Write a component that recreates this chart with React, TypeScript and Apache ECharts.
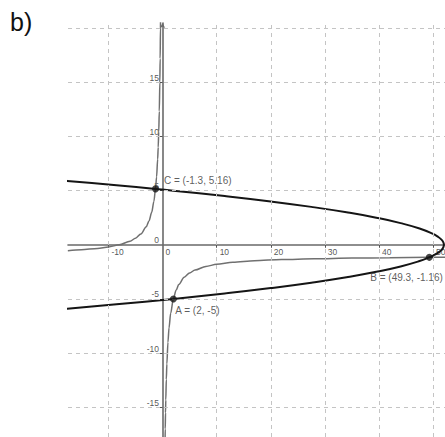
import React, { useEffect, useRef } from "react";
import * as echarts from "echarts";

// Axis ranges
const X_MIN = -17.47;
const X_MAX = 52.2;
const Y_MIN = -17.75;
const Y_MAX = 20.48;

// Tick labels and grid lines
const xTickValues = [-10, 0, 10, 20, 30, 40, 50];
const yTickValues = [-15, -10, -5, 0, 5, 10, 15];
const xGridValues = [-10, 10, 20, 30, 40, 50];
const yGridValues = [-15, -10, -5, 5, 10, 15, 20];

// Parabola points (x, y)
const parabolaX = [-24.88, -17.62, -8.5, -1.25, 2, 11.5, 20, 27.5, 34, 39.5, 44, 47.5, 50, 50.875, 51.5, 51.875, 52, 51.875, 51.5, 50.875, 50, 49.3, 47.5, 44, 39.5, 34, 27.5, 20, 11.5, 2, -8.5, -17.62, -24.88];
const parabolaY = [6.2, 5.9, 5.5, 5.16, 5, 4.5, 4, 3.5, 3, 2.5, 2, 1.5, 1, 0.75, 0.5, 0.25, 0, -0.25, -0.5, -0.75, -1, -1.16, -1.5, -2, -2.5, -3, -3.5, -4, -4.5, -5, -5.5, -5.9, -6.2];

// Hyperbola left branch
const hypLeftX = [-17.5, -15, -12, -10, -8, -6, -5, -4, -3, -2.5, -2, -1.6, -1.3, -1.1, -0.9, -0.8, -0.7, -0.6, -0.5, -0.44, -0.38, -0.36];
const hypLeftY = [-0.543, -0.467, -0.333, -0.2, 0, 0.333, 0.6, 1, 1.667, 2.2, 3, 4, 5.15, 6.27, 7.89, 9, 10.43, 12.33, 15, 17.2, 20.05, 21.2];

// Hyperbola right branch
const hypRightX = [0.42, 0.45, 0.5, 0.55, 0.6, 0.7, 0.8, 1, 1.2, 1.5, 2, 2.5, 3, 4, 5, 6, 8, 10, 13, 17, 22, 28, 35, 42, 49.3, 53];
const hypRightY = [-20.05, -18.8, -17, -15.5, -14.33, -12.43, -11, -9, -7.67, -6.33, -5, -4.2, -3.67, -3, -2.6, -2.33, -2, -1.8, -1.62, -1.47, -1.36, -1.29, -1.23, -1.19, -1.16, -1.15];

// Named points
const pointNames = ["A", "B", "C"];
const pointX = [2, 49.3, -1.3];
const pointY = [-5, -1.16, 5.16];

const zip = (xs: number[], ys: number[]) => xs.map((x, i) => [x, ys[i]]);

export default function App() {
  const ref = useRef<HTMLDivElement>(null);

  useEffect(() => {
    if (!ref.current) return;
    const chart = echarts.init(ref.current, null, { renderer: "svg" });

    const labelPos: Record<string, any> = {
      A: { position: [5.5, 15.5], align: "left", verticalAlign: "middle" },
      B: { position: [17, 24], align: "right", verticalAlign: "middle" },
      C: { position: [12, -4.5], align: "left", verticalAlign: "middle" },
    };

    const font = '"Liberation Sans", Arial, sans-serif';

    const option: any = {
      animation: false,
      backgroundColor: "#ffffff",
      graphic: [
        {
          type: "text",
          left: 10,
          top: 9,
          style: {
            text: "b)",
            font: '25px "Liberation Sans", Arial, sans-serif',
            fill: "#111",
          },
        },
      ],
      grid: {
        left: 68,
        top: 23,
        right: 0,
        bottom: 0,
        containLabel: false,
        outerBoundsMode: "none",
      },
      xAxis: {
        type: "value",
        min: X_MIN,
        max: X_MAX,
        axisLine: {
          show: true,
          onZero: true,
          lineStyle: { color: "#6a6a6a", width: 1.6 },
        },
        axisTick: {
          show: true,
          customValues: xGridValues,
          length: 3,
          lineStyle: { color: "#555", width: 1 },
        },
        axisLabel: { show: false },
        splitLine: { show: false },
      },
      yAxis: {
        type: "value",
        min: Y_MIN,
        max: Y_MAX,
        axisLine: {
          show: true,
          onZero: true,
          symbol: ["none", "arrow"],
          symbolSize: [4, 5],
          lineStyle: { color: "#6a6a6a", width: 1.6 },
        },
        axisTick: {
          show: true,
          customValues: [-15, -10, -5, 5, 10, 15],
          length: 3,
          lineStyle: { color: "#555", width: 1 },
        },
        axisLabel: { show: false },
        splitLine: { show: false },
      },
      series: [
        {
          type: "line",
          data: [[X_MIN, Y_MIN]],
          symbol: "none",
          lineStyle: { opacity: 0 },
          silent: true,
          z: 1,
          markLine: {
            silent: true,
            symbol: "none",
            label: { show: false },
            lineStyle: { color: "#c4c4c4", type: [4, 4], width: 1 },
            data: [
              ...xGridValues.map((v) => ({ xAxis: v })),
              ...yGridValues.map((v) => ({ yAxis: v })),
            ],
          },
        },
        {
          type: "scatter",
          data: zip(xTickValues, xTickValues.map(() => 0)),
          symbolSize: 1,
          itemStyle: { color: "rgba(0,0,0,0)" },
          silent: true,
          z: 2,
          label: {
            show: true,
            formatter: (p: any) => String(p.value[0]),
            position: [3.5, 3.5],
            align: "left",
            verticalAlign: "top",
            fontSize: 8.5,
            fontFamily: font,
            color: "#2a2a2a",
          },
        },
        {
          type: "scatter",
          data: zip(yTickValues.map(() => 0), yTickValues),
          symbolSize: 1,
          itemStyle: { color: "rgba(0,0,0,0)" },
          silent: true,
          z: 2,
          label: {
            show: true,
            formatter: (p: any) => String(p.value[1]),
            position: [-3, -4],
            align: "right",
            verticalAlign: "middle",
            fontSize: 8.5,
            fontFamily: font,
            color: "#2a2a2a",
          },
        },
        {
          type: "line",
          data: zip(hypLeftX, hypLeftY),
          symbol: "none",
          smooth: 0.3,
          smoothMonotone: "x",
          lineStyle: { color: "#707070", width: 1.5 },
          z: 3,
        },
        {
          type: "line",
          data: zip(hypRightX, hypRightY),
          symbol: "none",
          smooth: 0.3,
          smoothMonotone: "x",
          lineStyle: { color: "#707070", width: 1.5 },
          z: 3,
        },
        {
          type: "line",
          data: zip(parabolaX, parabolaY),
          symbol: "none",
          smooth: 0.5,
          lineStyle: { color: "#151515", width: 2 },
          z: 4,
        },
        {
          type: "scatter",
          data: pointNames.map((n, i) => ({
            name: n,
            value: [pointX[i], pointY[i]],
            label: labelPos[n],
          })),
          symbol: "circle",
          symbolSize: 7,
          itemStyle: { color: "#151515" },
          z: 5,
          label: {
            show: true,
            formatter: (p: any) => `${p.name} = (${p.value[0]}, ${p.value[1]})`,
            fontSize: 10,
            fontFamily: font,
            color: "#333",
          },
        },
      ],
    };

    chart.setOption(option);
    return () => chart.dispose();
  }, []);

  return (
    <div
      ref={ref}
      style={{ position: "absolute", left: 0, top: 0, width: 445, height: 437 }}
    />
  );
}
